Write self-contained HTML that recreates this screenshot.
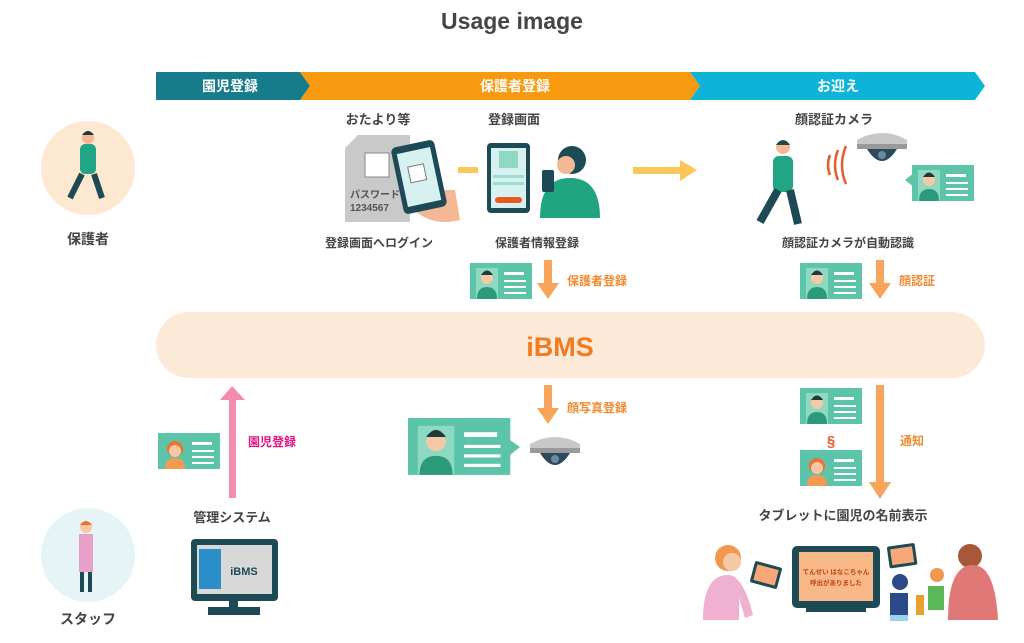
<!DOCTYPE html>
<html><head><meta charset="utf-8"><style>
html,body{margin:0;padding:0;background:#fff;}
svg{display:block;font-family:"Liberation Sans","Noto Sans CJK JP",sans-serif;font-weight:bold;}
</style></head><body>
<svg width="1024" height="643" viewBox="0 0 1024 643" xmlns="http://www.w3.org/2000/svg">
<defs>
<g id="card">
 <rect x="0" y="0" width="62" height="36" fill="#5cc4a8"/>
 <rect x="6" y="5" width="22" height="31" fill="#8fd8c2"/>
 <circle cx="17" cy="15" r="6" fill="#f5c9a8"/><path d="M11 12 q6-9 12 0 z" fill="#1e3a3a"/>
 <path d="M7 36 q0-12 10-12 q10 0 10 12z" fill="#2a9a78"/>
 <rect x="34" y="9" width="20" height="3" fill="#fff"/>
 <rect x="34" y="17" width="22" height="2" fill="#fff"/>
 <rect x="34" y="23" width="22" height="2" fill="#fff"/>
 <rect x="34" y="29" width="22" height="2" fill="#fff"/>
</g>
<g id="ccard">
 <rect x="0" y="0" width="62" height="36" fill="#5cc4a8"/>
 <circle cx="17" cy="16" r="8" fill="#f07030"/><circle cx="17" cy="18" r="6" fill="#f5c9a8"/>
 <path d="M7 36 q0-11 10-11 q10 0 10 11z" fill="#f59a50"/>
 <rect x="34" y="9" width="20" height="3" fill="#fff"/>
 <rect x="34" y="17" width="22" height="2" fill="#fff"/>
 <rect x="34" y="23" width="22" height="2" fill="#fff"/>
 <rect x="34" y="29" width="22" height="2" fill="#fff"/>
</g>
<g id="cam">
 <path d="M0 10 q25-14 50 0 v6 h-50z" fill="#c8c8c8"/>
 <rect x="0" y="14" width="50" height="5" fill="#9a9a9a"/>
 <path d="M10 19 q15 24 30 0z" fill="#2d4a5a"/>
 <circle cx="25" cy="25" r="4" fill="#6a8aa0"/>
</g>
</defs>

<text x="512" y="29" text-anchor="middle" font-size="23" fill="#454545">Usage image</text>

<!-- banner -->
<polygon points="156,72 300,72 310,86 300,100 156,100" fill="#167b8b"/>
<polygon points="300,72 690,72 700,86 690,100 300,100 310,86" fill="#f89a10"/>
<polygon points="690,72 975,72 985,86 975,100 690,100 700,86" fill="#0db4d8"/>
<text x="230" y="91" text-anchor="middle" font-size="14" fill="#fff">園児登録</text>
<text x="515" y="91" text-anchor="middle" font-size="14" fill="#fff">保護者登録</text>
<text x="838" y="91" text-anchor="middle" font-size="14" fill="#fff">お迎え</text>

<!-- parent circle -->
<circle cx="88" cy="168" r="47" fill="#fde8d2"/>
<circle cx="88" cy="138" r="6" fill="#f5b894"/><path d="M82 135 q6-8 12 0z" fill="#1e3a3a"/>
<rect x="80" y="144" width="16" height="30" rx="5" fill="#20a585"/>
<path d="M82 174 l-12 24 M94 174 l8 24" stroke="#1d4a55" stroke-width="6" fill="none"/>
<text x="88" y="244" text-anchor="middle" font-size="14" fill="#444">保護者</text>

<!-- staff circle -->
<circle cx="88" cy="555" r="47" fill="#e6f4f6"/>
<circle cx="86" cy="527" r="6" fill="#f5c9a8"/><path d="M80 525 q6-8 12 0z" fill="#f07030"/>
<path d="M79 534 h14 v38 h-14z" fill="#e8a0c8"/>
<rect x="80" y="572" width="4" height="20" fill="#1d4a55"/><rect x="88" y="572" width="4" height="20" fill="#1d4a55"/>
<text x="88" y="624" text-anchor="middle" font-size="14" fill="#444">スタッフ</text>

<!-- top labels -->
<text x="378" y="124" text-anchor="middle" font-size="13" fill="#444">おたより等</text>
<text x="514" y="124" text-anchor="middle" font-size="13" fill="#444">登録画面</text>
<text x="834" y="124" text-anchor="middle" font-size="13" fill="#444">顔認証カメラ</text>
<text x="379" y="247" text-anchor="middle" font-size="12" fill="#444">登録画面へログイン</text>
<text x="537" y="247" text-anchor="middle" font-size="12" fill="#444">保護者情報登録</text>
<text x="848" y="247" text-anchor="middle" font-size="12" fill="#444">顔認証カメラが自動認識</text>

<!-- paper and phone -->
<polygon points="358,135 410,135 410,222 345,222 345,148" fill="#c9c9c9"/>
<rect x="365" y="153" width="24" height="24" fill="#fff" stroke="#888"/>
<text x="350" y="198" font-size="10" fill="#555">パスワード</text>
<text x="350" y="211" font-size="10" fill="#555">1234567</text>
<path d="M400 190 q20 40 60 30 l-5-30z" fill="#f5b894"/>
<rect x="397" y="143" width="44" height="68" rx="5" fill="#1d4a55" transform="rotate(-12 419 177)"/>
<rect x="402" y="150" width="34" height="54" fill="#d7f0f0" transform="rotate(-12 419 177)"/>
<rect x="410" y="165" width="16" height="16" fill="#fff" stroke="#777" transform="rotate(-12 419 177)"/>
<rect x="458" y="167" width="20" height="6" fill="#f9c859"/>

<!-- tablet and person -->
<rect x="487" y="143" width="43" height="70" rx="4" fill="#1d4a55"/>
<rect x="491" y="148" width="35" height="60" fill="#d7f0f0"/>
<rect x="499" y="151" width="19" height="17" fill="#8fd8c2"/>
<rect x="493" y="175" width="31" height="3" fill="#9fdcd0"/><rect x="493" y="182" width="31" height="3" fill="#9fdcd0"/>
<rect x="495" y="197" width="27" height="6" rx="3" fill="#ea5a20"/>
<circle cx="572" cy="160" r="14" fill="#1d4a55"/><circle cx="566" cy="165" r="9" fill="#f5b894"/>
<path d="M540 218 q0-40 30-40 q30 0 30 40z" fill="#1fa580"/>
<rect x="542" y="170" width="12" height="22" rx="2" fill="#1d4a55"/>
<rect x="633" y="167" width="48" height="7" fill="#f9c859"/>
<polygon points="680,160 697,170 680,181" fill="#f9c859"/>

<!-- walking man, camera -->
<circle cx="783" cy="147" r="7" fill="#f5b894"/><path d="M776 145 q7-10 14 0z" fill="#1d4a55"/>
<rect x="773" y="156" width="20" height="36" rx="6" fill="#20a585"/>
<path d="M778 190 l-18 32 M790 190 l8 34" stroke="#1d4a55" stroke-width="8" fill="none"/>
<path d="M830 155 q-4 10 0 20 M838 150 q-6 15 0 30 M846 146 q-8 19 0 38" stroke="#e85a30" stroke-width="2.5" fill="none"/>
<use href="#cam" x="857" y="130"/>
<polygon points="915,172 905,180 915,188" fill="#5cc4a8"/>
<use href="#card" x="912" y="165" transform="translate(912 165) scale(1) translate(-912 -165)"/>

<!-- mid small cards and arrows -->
<use href="#card" x="470" y="263"/>
<use href="#card" x="800" y="263"/>
<rect x="544" y="260" width="8" height="25" fill="#f8a45a"/><polygon points="537,283 559,283 548,299" fill="#f8a45a"/>
<rect x="876" y="260" width="8" height="25" fill="#f8a45a"/><polygon points="869,283 891,283 880,299" fill="#f8a45a"/>
<text x="567" y="285" font-size="12" fill="#f08a30">保護者登録</text>
<text x="899" y="285" font-size="12" fill="#f08a30">顔認証</text>

<!-- iBMS pill -->
<rect x="156" y="312" width="829" height="66" rx="33" fill="#fde9d8"/>
<text x="560" y="356" text-anchor="middle" font-size="27" fill="#f07b20">iBMS</text>

<!-- pink arrow -->
<rect x="229" y="398" width="7" height="100" fill="#f48cb0"/>
<polygon points="220,400 245,400 232,386" fill="#f48cb0"/>
<text x="248" y="446" font-size="12" fill="#e4107f">園児登録</text>
<use href="#ccard" x="158" y="433"/>
<text x="232" y="522" text-anchor="middle" font-size="13" fill="#444">管理システム</text>
<rect x="191" y="539" width="87" height="62" rx="4" fill="#1d4a55"/>
<rect x="197" y="545" width="75" height="49" fill="#d8d8d8"/>
<rect x="199" y="549" width="22" height="40" fill="#2a8ec8"/>
<text x="244" y="575" text-anchor="middle" font-size="11" fill="#1d4a55">iBMS</text>
<rect x="229" y="600" width="9" height="8" fill="#1d4a55"/><rect x="208" y="607" width="52" height="8" fill="#1d4a55"/>

<!-- face photo reg -->
<rect x="544" y="385" width="8" height="25" fill="#f8a45a"/><polygon points="537,408 559,408 548,424" fill="#f8a45a"/>
<text x="567" y="412" font-size="12" fill="#f08a30">顔写真登録</text>
<g transform="translate(408 418) scale(1.65 1.58)"><use href="#card"/></g>
<polygon points="510,440 520,447 510,455" fill="#5cc4a8"/>
<use href="#cam" x="530" y="434"/>

<!-- right lower -->
<use href="#card" x="800" y="388"/>
<text x="831" y="446" text-anchor="middle" font-size="15" fill="#e85a30">§</text>
<use href="#ccard" x="800" y="450"/>
<rect x="876" y="385" width="8" height="100" fill="#f8a45a"/><polygon points="869,482 891,482 880,499" fill="#f8a45a"/>
<text x="900" y="445" font-size="12" fill="#f08a30">通知</text>
<text x="843" y="520" text-anchor="middle" font-size="13" fill="#444">タブレットに園児の名前表示</text>

<!-- bottom scene -->
<circle cx="728" cy="558" r="13" fill="#f09850"/><circle cx="732" cy="562" r="9" fill="#f5c9a8"/>
<path d="M703 620 q0-45 25-45 q15 0 25 40 l-8 3 l-6-20 v22z" fill="#f0b0d0"/>
<g transform="rotate(15 766 575)"><rect x="752" y="564" width="28" height="22" rx="2" fill="#1d4a55"/><rect x="755" y="567" width="22" height="16" fill="#f8a878"/></g>
<rect x="792" y="546" width="88" height="62" rx="5" fill="#1d4a55"/>
<rect x="799" y="552" width="74" height="49" fill="#f8b888"/>
<text x="836" y="574" text-anchor="middle" font-size="6.5" fill="#c04010">てんせい はなこちゃん</text>
<text x="836" y="585" text-anchor="middle" font-size="6.5" fill="#c04010">呼出がありました</text>
<rect x="806" y="607" width="60" height="5" fill="#1d4a55"/>
<g transform="rotate(-8 900 555)"><rect x="888" y="545" width="28" height="22" rx="2" fill="#1d4a55"/><rect x="891" y="548" width="22" height="16" fill="#f8a878"/></g>
<circle cx="900" cy="582" r="8" fill="#2a4a8a"/><path d="M890 615 v-22 h18 v22z" fill="#2a4a8a"/><path d="M890 615 h18 v6 h-18z" fill="#9ad0f0"/>
<rect x="916" y="595" width="8" height="20" fill="#e8a030"/>
<circle cx="937" cy="575" r="7" fill="#f09850"/><path d="M928 610 v-24 h16 v24z" fill="#5ab858"/>
<circle cx="970" cy="556" r="12" fill="#a85838"/><path d="M948 620 q0-55 25-55 q22 0 25 55z" fill="#e07878"/>
</svg>
</body></html>
